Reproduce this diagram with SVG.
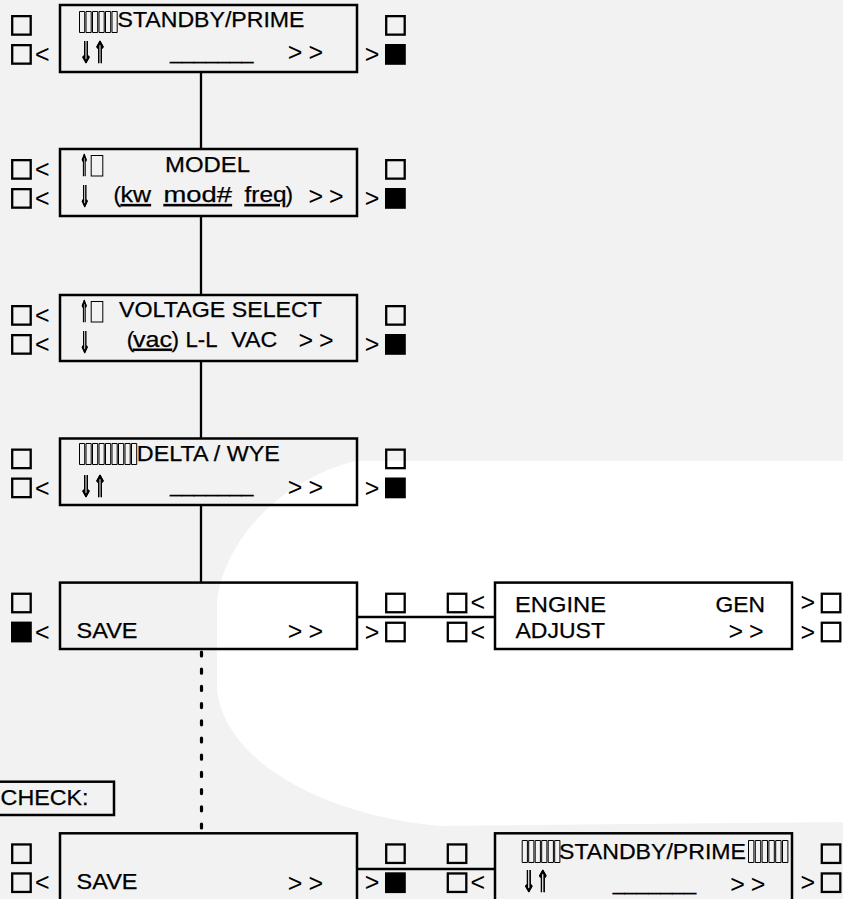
<svg xmlns="http://www.w3.org/2000/svg" width="843" height="899" viewBox="0 0 843 899">
<defs>
<filter id="blk" x="-20%" y="-20%" width="140%" height="140%" color-interpolation-filters="sRGB">
<feColorMatrix type="matrix" values="0 0 0 0 0  0 0 0 0 0  0 0 0 0 0  0 0 0 1.3 0"/>
</filter>
</defs>
<style>
.bg{fill:#f2f2f2}
.wm{fill:#ffffff}
.box{fill:none;stroke:#000;stroke-width:2.5}
.sq{fill:none;stroke:#000;stroke-width:2.3}
.fsq{fill:#000}
.tf{fill:none;stroke:#000;stroke-width:1}
.t{font-family:"Liberation Sans",Arial,Helvetica,sans-serif;font-size:22.5px;fill:#000;stroke:#000;stroke-width:0.25}
.g{font-family:"Liberation Sans",Arial,Helvetica,sans-serif;font-size:25px;fill:#000}
.gg{font-family:"Liberation Sans",Arial,Helvetica,sans-serif;font-size:25px;fill:#000;letter-spacing:6px}
.ar{font-family:"DejaVu Sans","DejaVu Serif","DejaVu Sans Mono",sans-serif;font-size:30px;fill:#000;stroke:#000;stroke-width:0.5}
.arw{filter:url(#blk)}
.u{text-decoration:underline}
.ln{fill:none;stroke:#000;stroke-width:2.3}
.dot{fill:none;stroke:#000;stroke-width:3.2;stroke-linecap:round;stroke-dasharray:4 13.2}
</style>
<rect class="bg" x="0" y="0" width="843" height="899"/>
<path class="wm" d="M843,461 L355,461 C280,480 225,540 217,600 L217,690 C225,760 320,815 440,826 L843,822 Z"/>

<g id="connectors">
<path class="ln" d="M201,72 V149 M201,216 V295 M201,361 V438.5 M201,505 V582.6 M357,617 H495 M357,869 H495"/>
<path class="dot" d="M201.5,652 V833"/>
</g>

<g id="node-standby">
<rect class="box" x="60" y="5" width="297" height="67"/>
<rect class="sq" x="12.2" y="16.15" width="18.5" height="18.5"/>
<rect class="sq" x="12.2" y="45.15" width="18.5" height="18.5"/>
<text class="g" x="35" y="63.1">&lt;</text>
<rect class="sq" x="386.2" y="16.15" width="18.5" height="18.5"/>
<rect class="fsq" x="385" y="44" width="20.8" height="20.8"/>
<text class="g" x="364.8" y="63.1">&gt;</text>
<path class="tf" d="M79.5 11.5h5.2v21h-5.2z M86 11.5h5.2v21h-5.2z M92.5 11.5h5.2v21h-5.2z M99 11.5h5.2v21h-5.2z M105.5 11.5h5.2v21h-5.2z M112 11.5h5.2v21h-5.2z"/>
<text class="t" x="117.5" y="27" textLength="187" lengthAdjust="spacingAndGlyphs">STANDBY/PRIME</text>
<g class="arw"><text class="ar" x="79" y="63" textLength="28" lengthAdjust="spacingAndGlyphs">⇓⇑</text></g>
<text class="t" x="170" y="59" textLength="83.5" lengthAdjust="spacingAndGlyphs">_______</text>
<text class="gg" x="287.8" y="61.2">&gt;&gt;</text>
</g>

<g id="node-model">
<rect class="box" x="60" y="149" width="297" height="67"/>
<rect class="sq" x="12.2" y="160.15" width="18.5" height="18.5"/>
<text class="g" x="35" y="177.8">&lt;</text>
<rect class="sq" x="12.2" y="189.15" width="18.5" height="18.5"/>
<text class="g" x="35" y="207.1">&lt;</text>
<rect class="sq" x="386.2" y="160.15" width="18.5" height="18.5"/>
<rect class="fsq" x="385" y="188" width="20.8" height="20.8"/>
<text class="g" x="364.8" y="207.1">&gt;</text>
<g class="arw"><text class="ar" x="79.5" y="176" textLength="9.5" lengthAdjust="spacingAndGlyphs">⇑</text></g>
<rect class="tf" x="91.2" y="155.5" width="11.6" height="20.5"/>
<text class="t" x="165" y="171.7" textLength="85" lengthAdjust="spacingAndGlyphs">MODEL</text>
<g class="arw"><text class="ar" x="79" y="206.5" textLength="11.5" lengthAdjust="spacingAndGlyphs">⇓</text></g>
<text class="t" x="113.5" y="202">(</text>
<text class="t u" x="120.5" y="202" textLength="30.5" lengthAdjust="spacingAndGlyphs">kw</text>
<text class="t u" x="163.5" y="202" textLength="68.5" lengthAdjust="spacingAndGlyphs">mod#</text>
<text class="t u" x="244.5" y="202" textLength="42" lengthAdjust="spacingAndGlyphs">freq</text>
<text class="t" x="285.4" y="202">)</text>
<text class="gg" x="308.5" y="204.6">&gt;&gt;</text>
</g>

<g id="node-voltage">
<rect class="box" x="60" y="295" width="297" height="66"/>
<rect class="sq" x="12.2" y="306.15" width="18.5" height="18.5"/>
<text class="g" x="35" y="323.8">&lt;</text>
<rect class="sq" x="12.2" y="335.15" width="18.5" height="18.5"/>
<text class="g" x="35" y="353.1">&lt;</text>
<rect class="sq" x="386.2" y="306.15" width="18.5" height="18.5"/>
<rect class="fsq" x="385" y="334" width="20.8" height="20.8"/>
<text class="g" x="364.8" y="353.1">&gt;</text>
<g class="arw"><text class="ar" x="79.5" y="322" textLength="9.5" lengthAdjust="spacingAndGlyphs">⇑</text></g>
<rect class="tf" x="91.2" y="301.5" width="11.6" height="20.5"/>
<text class="t" x="119" y="316.7" textLength="203" lengthAdjust="spacingAndGlyphs">VOLTAGE SELECT</text>
<g class="arw"><text class="ar" x="79" y="353" textLength="11.5" lengthAdjust="spacingAndGlyphs">⇓</text></g>
<text class="t" x="126.8" y="346.7">(</text>
<text class="t u" x="133" y="346.7" textLength="39" lengthAdjust="spacingAndGlyphs">vac</text>
<text class="t" x="171.5" y="346.7">)</text>
<text class="t" x="185.5" y="346.7" textLength="32" lengthAdjust="spacingAndGlyphs">L-L</text>
<text class="t" x="231.3" y="346.7" textLength="46" lengthAdjust="spacingAndGlyphs">VAC</text>
<text class="gg" x="298.5" y="349">&gt;&gt;</text>
</g>

<g id="node-delta">
<rect class="box" x="60" y="438.5" width="297" height="66.5"/>
<rect class="sq" x="12.2" y="449.65" width="18.5" height="18.5"/>
<rect class="sq" x="12.2" y="478.65" width="18.5" height="18.5"/>
<text class="g" x="35" y="496.6">&lt;</text>
<rect class="sq" x="386.2" y="449.65" width="18.5" height="18.5"/>
<rect class="fsq" x="385" y="477.5" width="20.8" height="20.8"/>
<text class="g" x="364.8" y="496.6">&gt;</text>
<path class="tf" d="M79.5 443.5h5.2v21h-5.2z M86 443.5h5.2v21h-5.2z M92.5 443.5h5.2v21h-5.2z M99 443.5h5.2v21h-5.2z M105.5 443.5h5.2v21h-5.2z M112 443.5h5.2v21h-5.2z M118.5 443.5h5.2v21h-5.2z M125 443.5h5.2v21h-5.2z M131.5 443.5h5.2v21h-5.2z"/>
<text class="t" x="136.8" y="460.7" textLength="143" lengthAdjust="spacingAndGlyphs">DELTA / WYE</text>
<g class="arw"><text class="ar" x="79" y="497" textLength="28" lengthAdjust="spacingAndGlyphs">⇓⇑</text></g>
<text class="t" x="170" y="492" textLength="83.5" lengthAdjust="spacingAndGlyphs">_______</text>
<text class="gg" x="287.8" y="496.2">&gt;&gt;</text>
</g>

<g id="node-save">
<rect class="box" x="60" y="582.6" width="297" height="66.4"/>
<rect class="sq" x="12.2" y="593.75" width="18.5" height="18.5"/>
<rect class="fsq" x="11" y="621.6" width="20.8" height="20.8"/>
<text class="g" x="35" y="640.7">&lt;</text>
<rect class="sq" x="386.2" y="593.75" width="18.5" height="18.5"/>
<rect class="sq" x="386.2" y="622.75" width="18.5" height="18.5"/>
<text class="g" x="364.8" y="640.7">&gt;</text>
<text class="t" x="76.5" y="638.3" textLength="61" lengthAdjust="spacingAndGlyphs">SAVE</text>
<text class="gg" x="287.8" y="639.6">&gt;&gt;</text>
</g>

<g id="node-engine">
<rect class="box" x="495" y="582.6" width="297" height="66.4"/>
<rect class="sq" x="447.8" y="593.75" width="18.5" height="18.5"/>
<text class="g" x="470.5" y="611.4">&lt;</text>
<rect class="sq" x="447.8" y="622.75" width="18.5" height="18.5"/>
<text class="g" x="470.5" y="640.7">&lt;</text>
<text class="g" x="800.5" y="611.4">&gt;</text>
<rect class="sq" x="821.8" y="593.75" width="18.5" height="18.5"/>
<text class="g" x="800.5" y="640.7">&gt;</text>
<rect class="sq" x="821.8" y="622.75" width="18.5" height="18.5"/>
<text class="t" x="515" y="611.7" textLength="91" lengthAdjust="spacingAndGlyphs">ENGINE</text>
<text class="t" x="715.5" y="611.7" textLength="49.5" lengthAdjust="spacingAndGlyphs">GEN</text>
<text class="t" x="515.5" y="638.3" textLength="89.5" lengthAdjust="spacingAndGlyphs">ADJUST</text>
<text class="gg" x="728.5" y="639.6">&gt;&gt;</text>
</g>

<g id="node-check">
<rect class="box" x="-5" y="781.7" width="119" height="33.3"/>
<text class="t" x="0.6" y="805" textLength="88" lengthAdjust="spacingAndGlyphs">CHECK:</text>
</g>

<g id="node-save2">
<rect class="box" x="60" y="833.3" width="297" height="72"/>
<rect class="sq" x="12.2" y="844.45" width="18.5" height="18.5"/>
<rect class="sq" x="12.2" y="873.45" width="18.5" height="18.5"/>
<text class="g" x="35" y="891.4">&lt;</text>
<rect class="sq" x="386.2" y="844.45" width="18.5" height="18.5"/>
<rect class="fsq" x="385" y="872.3" width="20.8" height="20.8"/>
<text class="g" x="364.8" y="891.4">&gt;</text>
<text class="t" x="76.5" y="889" textLength="61" lengthAdjust="spacingAndGlyphs">SAVE</text>
<text class="gg" x="287.8" y="892">&gt;&gt;</text>
</g>

<g id="node-standby2">
<rect class="box" x="495" y="833.3" width="297" height="72"/>
<rect class="sq" x="447.8" y="844.45" width="18.5" height="18.5"/>
<rect class="sq" x="447.8" y="873.45" width="18.5" height="18.5"/>
<text class="g" x="470.5" y="891.4">&lt;</text>
<rect class="sq" x="821.8" y="844.45" width="18.5" height="18.5"/>
<text class="g" x="800.5" y="891.4">&gt;</text>
<rect class="sq" x="821.8" y="873.45" width="18.5" height="18.5"/>
<path class="tf" d="M522.2 840.5h5.2v22h-5.2z M528.7 840.5h5.2v22h-5.2z M535.2 840.5h5.2v22h-5.2z M541.7 840.5h5.2v22h-5.2z M548.2 840.5h5.2v22h-5.2z M554.7 840.5h5.2v22h-5.2z"/>
<text class="t" x="559" y="859.3" textLength="187" lengthAdjust="spacingAndGlyphs">STANDBY/PRIME</text>
<path class="tf" d="M748.5 840.5h5.4v22h-5.4z M755.3 840.5h5.4v22h-5.4z M762.1 840.5h5.4v22h-5.4z M768.9 840.5h5.4v22h-5.4z M775.7 840.5h5.4v22h-5.4z M782.5 840.5h5.4v22h-5.4z"/>
<g class="arw"><text class="ar" x="521.7" y="892" textLength="28.3" lengthAdjust="spacingAndGlyphs">⇓⇑</text></g>
<text class="t" x="612.7" y="890" textLength="83.5" lengthAdjust="spacingAndGlyphs">_______</text>
<text class="gg" x="730.2" y="893">&gt;&gt;</text>
</g>
</svg>
